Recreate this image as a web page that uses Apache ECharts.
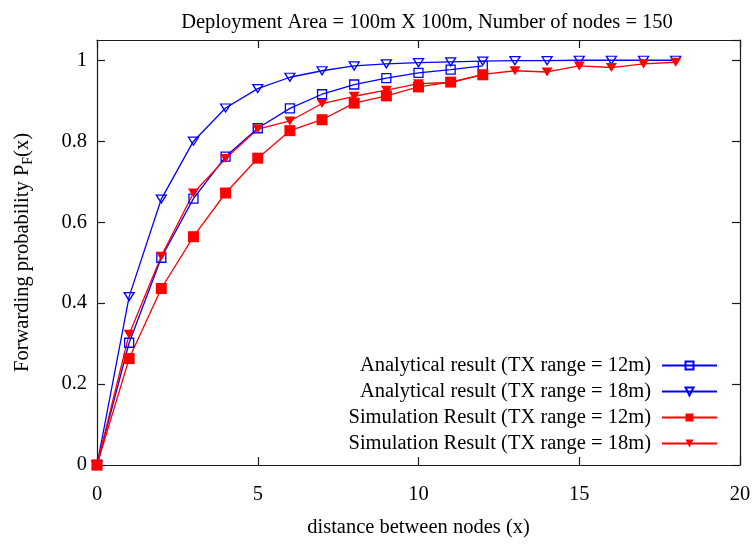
<!DOCTYPE html>
<html>
<head>
<meta charset="utf-8">
<style>
  html, body { margin: 0; padding: 0; background: #fff; }
  #chart { width: 754px; height: 549px; }
</style>
<script src="https://cdn.jsdelivr.net/npm/echarts@6/dist/echarts.min.js"></script>
</head>
<body>
<div id="chart"></div>
<script>
// distance between nodes (x)
const distance = [0, 1, 2, 3, 4, 5, 6, 7, 8, 9, 10, 11, 12, 13, 14, 15, 16, 17, 18];

// forwarding probability per curve
const analytical12 = [0, 0.302, 0.512, 0.658, 0.762, 0.832, 0.881, 0.916, 0.940, 0.956, 0.969, 0.977, 0.986];
const analytical18 = [0, 0.416, 0.657, 0.800, 0.882, 0.930, 0.958, 0.974, 0.986, 0.991, 0.994, 0.996, 0.998, 0.999, 0.999, 1.0, 1.0, 1.0, 1.0];
const simulation12 = [0, 0.263, 0.436, 0.564, 0.672, 0.758, 0.826, 0.853, 0.894, 0.912, 0.934, 0.946, 0.964];
const simulation18 = [0, 0.323, 0.516, 0.672, 0.757, 0.830, 0.850, 0.893, 0.911, 0.926, 0.942, 0.945, 0.965, 0.974, 0.971, 0.986, 0.982, 0.991, 0.995];

const seriesNames = [
  'Analytical result (TX range = 12m)',
  'Analytical result (TX range = 18m)',
  'Simulation Result (TX range = 12m)',
  'Simulation Result (TX range = 18m)'
];

const xTicks = [0, 5, 10, 15, 20];
const yTicks = [0, 0.2, 0.4, 0.6, 0.8, 1];

const FONT = 'Liberation Serif';
const FS = 20.5;
const BLUE = '#0000ff';
const RED = '#ff0000';
const AXIS = '#1a1a1a';

function pairs(ys) {
  return ys.map((y, i) => [distance[i], y]);
}

const chart = echarts.init(document.getElementById('chart'), null, { renderer: 'canvas' });

// frame on all four sides, ticks pointing into the plot
const axisCommon = {
  axisLine: { show: true, onZero: false, lineStyle: { color: AXIS, width: 1.2 } },
  axisTick: { show: true, inside: true, length: 8, lineStyle: { color: AXIS, width: 1.2 } },
  splitLine: { show: false }
};

const legendTops = [350, 376, 402, 428];

const option = {
  backgroundColor: '#fff',
  animation: false,
  title: {
    text: 'Deployment Area = 100m X 100m, Number of nodes = 150',
    left: 422,
    textAlign: 'center',
    top: 7,
    textStyle: { fontFamily: FONT, fontSize: FS, fontWeight: 'normal', color: '#000' }
  },
  grid: { left: 97, right: 14, top: 40, bottom: 84 },
  legend: seriesNames.map((n, i) => ({
    data: [n],
    orient: 'vertical',
    right: 31,
    top: legendTops[i],
    align: 'right',
    itemWidth: 55,
    itemHeight: 10,
    selectedMode: false,
    textStyle: { fontFamily: FONT, fontSize: FS, color: '#000', padding: [0, 6, 0, 0] }
  })),
  xAxis: [
    Object.assign({}, axisCommon, {
      type: 'value', min: 0, max: 20, interval: 5,
      position: 'bottom',
      name: 'distance between nodes (x)',
      nameLocation: 'middle',
      nameGap: 52,
      nameTextStyle: { fontFamily: FONT, fontSize: FS, color: '#000' },
      axisLabel: {
        fontFamily: FONT, fontSize: FS, color: '#000', margin: 19,
        formatter: v => (xTicks.indexOf(v) >= 0 ? String(v) : '')
      }
    }),
    Object.assign({}, axisCommon, {
      type: 'value', min: 0, max: 20, interval: 5,
      position: 'top',
      axisLabel: { show: false }
    })
  ],
  yAxis: [
    Object.assign({}, axisCommon, {
      type: 'value', min: 0, max: 1.05, interval: 0.2,
      position: 'left',
      name: 'Forwarding probability P{sub|F}(x)',
      nameLocation: 'middle',
      nameGap: 62,
      nameTextStyle: {
        fontFamily: FONT, fontSize: FS, color: '#000',
        rich: { sub: { fontFamily: FONT, fontSize: 14, color: '#000', padding: [10, 0, 0, 0] } }
      },
      axisLabel: {
        fontFamily: FONT, fontSize: FS, color: '#000', margin: 10,
        showMaxLabel: false,
        formatter: v => {
          const hit = yTicks.find(t => Math.abs(t - v) < 1e-6);
          return hit === undefined ? '' : String(hit);
        }
      }
    }),
    Object.assign({}, axisCommon, {
      type: 'value', min: 0, max: 1.05, interval: 0.2,
      position: 'right',
      axisLabel: { show: false }
    })
  ],
  series: [
    {
      name: seriesNames[0], type: 'line', data: pairs(analytical12),
      symbol: 'rect', symbolSize: 9,
      itemStyle: { color: 'rgba(0,0,0,0)', borderColor: BLUE, borderWidth: 1.3 },
      lineStyle: { color: BLUE, width: 1.3 }
    },
    {
      name: seriesNames[1], type: 'line', data: pairs(analytical18),
      symbol: 'triangle', symbolRotate: 180, symbolSize: [10, 8],
      itemStyle: { color: 'rgba(0,0,0,0)', borderColor: BLUE, borderWidth: 1.3 },
      lineStyle: { color: BLUE, width: 1.3 }
    },
    {
      name: seriesNames[2], type: 'line', data: pairs(simulation12),
      symbol: 'rect', symbolSize: 11,
      itemStyle: { color: RED },
      lineStyle: { color: RED, width: 1.3 }
    },
    {
      name: seriesNames[3], type: 'line', data: pairs(simulation18),
      symbol: 'triangle', symbolRotate: 180, symbolSize: [11, 9],
      itemStyle: { color: RED },
      lineStyle: { color: RED, width: 1.3 }
    }
  ]
};

chart.setOption(option);
</script>
</body>
</html>
